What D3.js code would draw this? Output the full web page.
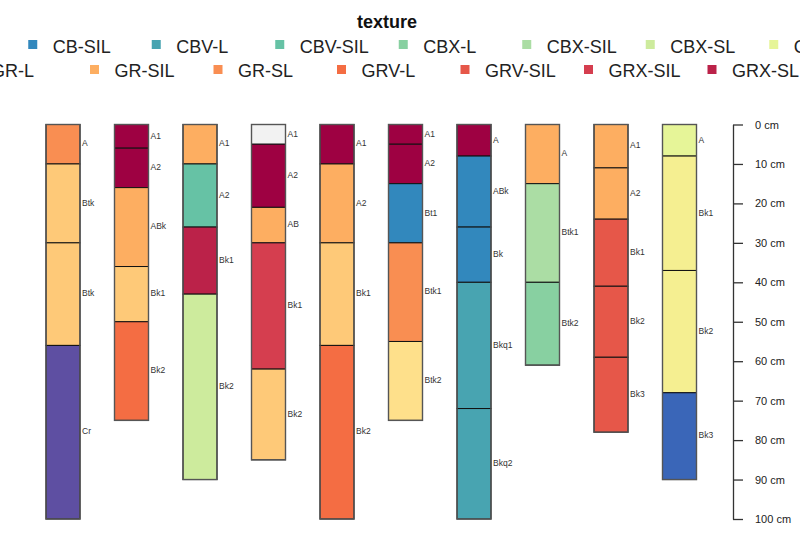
<!DOCTYPE html>
<html>
<head>
<meta charset="utf-8">
<script src="https://cdn.jsdelivr.net/npm/d3@7"></script>
<style>
  html, body { margin: 0; padding: 0; background: #fff; }
  svg { display: block; font-family: "Liberation Sans", Arial, sans-serif; }
</style>
</head>
<body>
<svg id="chart" width="800" height="536"></svg>
<script>
// ---- data ----
const textures = ["BR", "C-SL", "CB-SIL", "CBV-L", "CBV-SIL", "CBX-L", "CBX-SIL", "CBX-SL", "CN-L",
                  "CN-SIL", "GR-CL", "GR-L", "GR-SIL", "GR-SL", "GRV-L", "GRV-SIL", "GRX-SIL", "GRX-SL", "SIL"];
const textureColors = ["#5E4FA2", "#3A66B8", "#3288BD", "#48A4B1", "#66C2A5", "#88D0A1", "#ABDDA4", "#CDEB9D", "#E6F598",
                       "#F5EF91", "#FEE08B", "#FEC978", "#FDAE61", "#F98E52", "#F46D43", "#E65749", "#D53E4F", "#BB2249", "#9E0142"];
const legendRows = [10, 9];   // items per legend row
const depthTicks = [0, 10, 20, 30, 40, 50, 60, 70, 80, 90, 100];

const hzProfile = [0,0,0,0, 1,1,1,1,1, 2,2,2,2, 3,3,3,3,3, 4,4,4,4, 5,5,5,5,5, 6,6,6,6,6, 7,7,7, 8,8,8,8,8, 9,9,9,9];
const hzName = ["A","Btk","Btk","Cr",
                "A1","A2","ABk","Bk1","Bk2",
                "A1","A2","Bk1","Bk2",
                "A1","A2","AB","Bk1","Bk2",
                "A1","A2","Bk1","Bk2",
                "A1","A2","Bt1","Btk1","Btk2",
                "A","ABk","Bk","Bkq1","Bkq2",
                "A","Btk1","Btk2",
                "A1","A2","Bk1","Bk2","Bk3",
                "A","Bk1","Bk2","Bk3"];
const hzTop = [0,10,30,56,
               0,6,16,36,50,
               0,10,26,43,
               0,5,21,30,62,
               0,10,30,56,
               0,5,15,30,55,
               0,8,26,40,72,
               0,15,40,
               0,11,24,41,59,
               0,8,37,68];
const hzBottom = [10,30,56,100,
                  6,16,36,50,75,
                  10,26,43,90,
                  5,21,30,62,85,
                  10,30,56,100,
                  5,15,30,55,75,
                  8,26,40,72,100,
                  15,40,61,
                  11,24,41,59,78,
                  8,37,68,90];
const hzTexture = ["GR-SL","GR-L","GR-L","BR",
                   "SIL","SIL","GR-SIL","GR-L","GRV-L",
                   "GR-SIL","CBV-SIL","GRX-SL","CBX-SL",
                   null,"SIL","GR-SIL","GRX-SIL","GR-L",
                   "SIL","GR-SIL","GR-L","GRV-L",
                   "SIL","SIL","CB-SIL","GR-SL","GR-CL",
                   "SIL","CB-SIL","CB-SIL","CBV-L","CBV-L",
                   "GR-SIL","CBX-SIL","CBX-L",
                   "GR-SIL","GR-SIL","GRV-SIL","GRV-SIL","GRV-SIL",
                   "CN-L","CN-SIL","CN-SIL","C-SL"];

// ---- scales ----
const svg = d3.select("#chart");
const nProfiles = d3.max(hzProfile) + 1;
const x = d3.scaleLinear().domain([0, nProfiles - 1]).range([63, 679.5]);
const y = d3.scaleLinear().domain([0, 100]).range([124.5, 519]);
const color = d3.scaleOrdinal().domain(textures).range(textureColors).unknown("#F2F2F2");
const halfW = 17;

const hz = hzProfile.map((p, i) => ({p, name: hzName[i], top: hzTop[i], bot: hzBottom[i], tex: hzTexture[i]}));

// horizons
const g = svg.append("g");
g.selectAll("rect.hz").data(hz).join("rect")
  .attr("class", "hz")
  .attr("x", d => x(d.p) - halfW)
  .attr("width", halfW * 2)
  .attr("y", d => y(d.top))
  .attr("height", d => y(d.bot) - y(d.top))
  .attr("fill", d => color(d.tex === null ? undefined : d.tex))
  .attr("stroke", "#111")
  .attr("stroke-width", 1);

// outer outline per profile
const prof = d3.range(nProfiles).map(p => ({p, bot: d3.max(hz.filter(h => h.p === p), h => h.bot)}));
g.selectAll("rect.outline").data(prof).join("rect")
  .attr("class", "outline")
  .attr("x", d => x(d.p) - halfW)
  .attr("width", halfW * 2)
  .attr("y", y(0))
  .attr("height", d => y(d.bot) - y(0))
  .attr("fill", "none")
  .attr("stroke", "#555")
  .attr("stroke-width", 1.4);

// horizon labels
g.selectAll("text.hzl").data(hz).join("text")
  .attr("class", "hzl")
  .attr("x", d => x(d.p) + halfW + 2)
  .attr("y", d => (y(d.top) + y(d.bot)) / 2)
  .attr("dominant-baseline", "middle")
  .attr("font-size", 8.5)
  .attr("fill", "#333")
  .text(d => d.name);

// depth axis
const axis = d3.axisRight(y)
  .tickValues(depthTicks)
  .tickFormat(d => d + " cm")
  .tickSize(10)
  .tickSizeOuter(0)
  .tickPadding(12);
const ag = svg.append("g").attr("transform", "translate(733,0)").call(axis);
ag.select(".domain").attr("stroke", "#333").attr("stroke-width", 1.3);
ag.selectAll(".tick line").attr("stroke", "#333").attr("stroke-width", 1.3);
ag.selectAll(".tick text").attr("font-size", 11).attr("fill", "#222")
  .attr("font-family", "'Liberation Sans', Arial, sans-serif");

// legend
svg.append("text")
  .attr("x", 387).attr("y", 28)
  .attr("text-anchor", "middle")
  .attr("font-weight", "bold")
  .attr("font-size", 18)
  .attr("fill", "#111")
  .text("texture");

const legendCx = 341.5, legendStep = 123.5;
const rowKeyY = [44.5, 69.5], rowTextY = [53, 77];
let idx = 0;
const legendItems = [];
legendRows.forEach((n, r) => {
  for (let j = 0; j < n; j++) {
    legendItems.push({name: textures[idx], row: r, kx: legendCx + (j - (n - 1) / 2) * legendStep});
    idx++;
  }
});
const lg = svg.append("g");
lg.selectAll("rect").data(legendItems).join("rect")
  .attr("x", d => d.kx - 4.5)
  .attr("y", d => rowKeyY[d.row] - 4.5)
  .attr("width", 9).attr("height", 9)
  .attr("fill", d => color(d.name));
lg.selectAll("text").data(legendItems).join("text")
  .attr("x", d => d.kx + 20)
  .attr("y", d => rowTextY[d.row])
  .attr("font-size", 18)
  .attr("fill", "#222")
  .text(d => d.name);
</script>
</body>
</html>
